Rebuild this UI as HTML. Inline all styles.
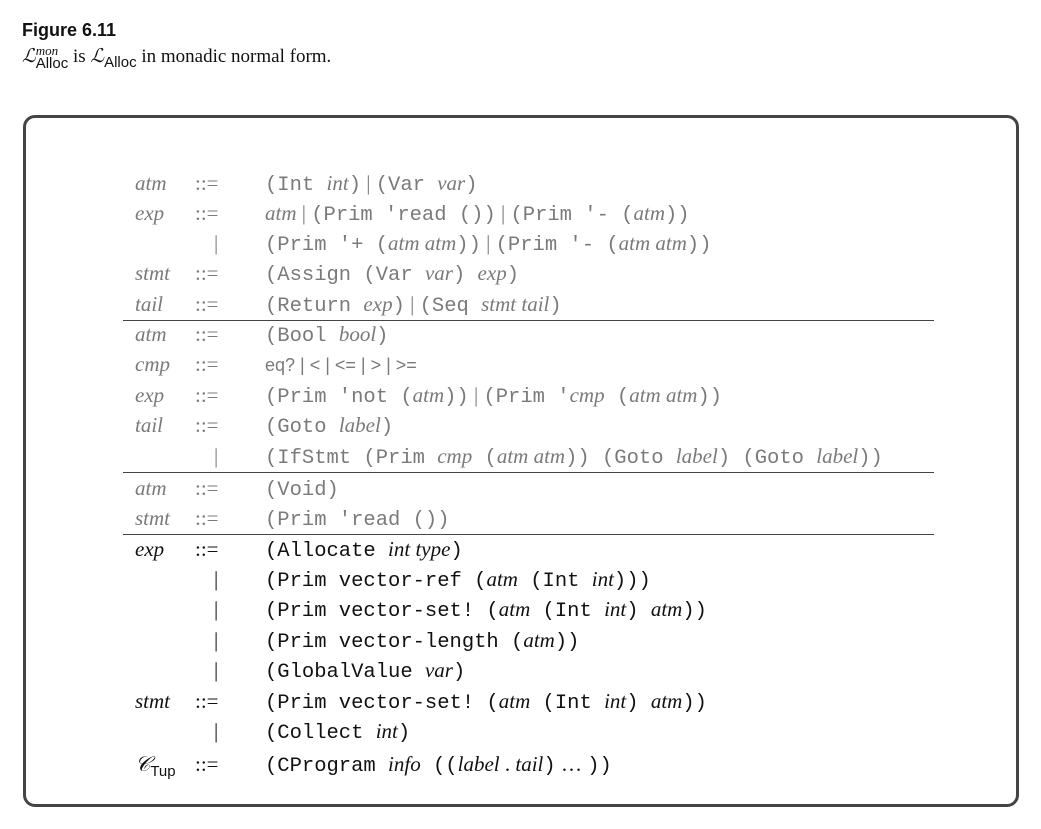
<!DOCTYPE html>
<html><head><meta charset="utf-8"><style>
body{margin:0;width:1041px;height:829px;background:#fff;position:relative;overflow:hidden;font-family:"Liberation Serif",serif;}
.t{position:absolute;white-space:nowrap;line-height:24px;font-size:21px;}
.g{color:#7a7a7a}.k{color:#111}
i{font-style:italic}
.m{font-family:"Liberation Mono",monospace;font-size:20.5px}
.s{font-family:"Liberation Sans",sans-serif;font-size:18px}
.hr{position:absolute;left:123px;width:811px;height:1px;background:#444}
.st{display:inline-block;vertical-align:-6px;line-height:13px;position:relative}
</style></head><body>
<div class="t" style="left:22px;top:18px;font-family:'Liberation Sans',sans-serif;font-weight:bold;font-size:18px;color:#111">Figure 6.11</div>
<div class="t k" style="left:22px;top:44px;font-size:19px"><i>ℒ</i><span class="st"><i style="font-size:13px;display:block">mon</i><span style="font-family:'Liberation Sans',sans-serif;font-size:15px;display:block">Alloc</span></span> is <i>ℒ</i><sub style="font-family:'Liberation Sans',sans-serif;font-size:15px">Alloc</sub> in monadic normal form.</div>
<div style="position:absolute;left:23px;top:115px;width:990px;height:686px;border:3px solid #444;border-radius:12px"></div>

<div class="g">
<div class="t" style="left:135px;top:171px"><i>atm</i></div><div class="t" style="left:195px;top:171px">::=</div><div class="t" style="left:265px;top:171px"><span class="m">(Int </span><i>int</i><span class="m">)</span> | <span class="m">(Var </span><i>var</i><span class="m">)</span></div>
<div class="t" style="left:135px;top:201px"><i>exp</i></div><div class="t" style="left:195px;top:201px">::=</div><div class="t" style="left:265px;top:201px"><i>atm</i> | <span class="m">(Prim 'read ())</span> | <span class="m">(Prim '- (</span><i>atm</i><span class="m">))</span></div>
<div class="t" style="left:214px;top:231px">|</div><div class="t" style="left:265px;top:231px"><span class="m">(Prim '+ (</span><i>atm atm</i><span class="m">))</span> | <span class="m">(Prim '- (</span><i>atm atm</i><span class="m">))</span></div>
<div class="t" style="left:135px;top:261px"><i>stmt</i></div><div class="t" style="left:195px;top:261px">::=</div><div class="t" style="left:265px;top:261px"><span class="m">(Assign (Var </span><i>var</i><span class="m">) </span><i>exp</i><span class="m">)</span></div>
<div class="t" style="left:135px;top:292px"><i>tail</i></div><div class="t" style="left:195px;top:292px">::=</div><div class="t" style="left:265px;top:292px"><span class="m">(Return </span><i>exp</i><span class="m">)</span> | <span class="m">(Seq </span><i>stmt tail</i><span class="m">)</span></div>

<div class="t" style="left:135px;top:322px"><i>atm</i></div><div class="t" style="left:195px;top:322px">::=</div><div class="t" style="left:265px;top:322px"><span class="m">(Bool </span><i>bool</i><span class="m">)</span></div>
<div class="t" style="left:135px;top:352px"><i>cmp</i></div><div class="t" style="left:195px;top:352px">::=</div><div class="t" style="left:265px;top:352px"><span class="s">eq? | &lt; | &lt;= | &gt; | &gt;=</span></div>
<div class="t" style="left:135px;top:383px"><i>exp</i></div><div class="t" style="left:195px;top:383px">::=</div><div class="t" style="left:265px;top:383px"><span class="m">(Prim 'not (</span><i>atm</i><span class="m">))</span> | <span class="m">(Prim '</span><i>cmp</i><span class="m"> (</span><i>atm atm</i><span class="m">))</span></div>
<div class="t" style="left:135px;top:413px"><i>tail</i></div><div class="t" style="left:195px;top:413px">::=</div><div class="t" style="left:265px;top:413px"><span class="m">(Goto </span><i>label</i><span class="m">)</span></div>
<div class="t" style="left:214px;top:444px">|</div><div class="t" style="left:265px;top:444px"><span class="m">(IfStmt (Prim </span><i>cmp</i><span class="m"> (</span><i>atm atm</i><span class="m">)) (Goto </span><i>label</i><span class="m">) (Goto </span><i>label</i><span class="m">))</span></div>

<div class="t" style="left:135px;top:476px"><i>atm</i></div><div class="t" style="left:195px;top:476px">::=</div><div class="t" style="left:265px;top:476px"><span class="m">(Void)</span></div>
<div class="t" style="left:135px;top:506px"><i>stmt</i></div><div class="t" style="left:195px;top:506px">::=</div><div class="t" style="left:265px;top:506px"><span class="m">(Prim 'read ())</span></div>
</div>

<div class="hr" style="top:320px"></div>
<div class="hr" style="top:472px"></div>
<div class="hr" style="top:534px"></div>

<div class="k">
<div class="t" style="left:135px;top:537px"><i>exp</i></div><div class="t" style="left:195px;top:537px">::=</div><div class="t" style="left:265px;top:537px"><span class="m">(Allocate </span><i>int type</i><span class="m">)</span></div>
<div class="t" style="left:214px;top:567px">|</div><div class="t" style="left:265px;top:567px"><span class="m">(Prim vector-ref (</span><i>atm</i><span class="m"> (Int </span><i>int</i><span class="m">)))</span></div>
<div class="t" style="left:214px;top:597px">|</div><div class="t" style="left:265px;top:597px"><span class="m">(Prim vector-set! (</span><i>atm</i><span class="m"> (Int </span><i>int</i><span class="m">) </span><i>atm</i><span class="m">))</span></div>
<div class="t" style="left:214px;top:628px">|</div><div class="t" style="left:265px;top:628px"><span class="m">(Prim vector-length (</span><i>atm</i><span class="m">))</span></div>
<div class="t" style="left:214px;top:658px">|</div><div class="t" style="left:265px;top:658px"><span class="m">(GlobalValue </span><i>var</i><span class="m">)</span></div>
<div class="t" style="left:135px;top:689px"><i>stmt</i></div><div class="t" style="left:195px;top:689px">::=</div><div class="t" style="left:265px;top:689px"><span class="m">(Prim vector-set! (</span><i>atm</i><span class="m"> (Int </span><i>int</i><span class="m">) </span><i>atm</i><span class="m">))</span></div>
<div class="t" style="left:214px;top:719px">|</div><div class="t" style="left:265px;top:719px"><span class="m">(Collect </span><i>int</i><span class="m">)</span></div>
<div class="t" style="left:135px;top:752px"><i>𝒞</i><sub style="font-family:'Liberation Sans',sans-serif;font-size:15px">Tup</sub></div><div class="t" style="left:195px;top:752px">::=</div><div class="t" style="left:265px;top:752px"><span class="m">(CProgram </span><i>info</i><span class="m"> ((</span><i>label</i> . <i>tail</i><span class="m">)</span> … <span class="m">))</span></div>
</div>
</body></html>
